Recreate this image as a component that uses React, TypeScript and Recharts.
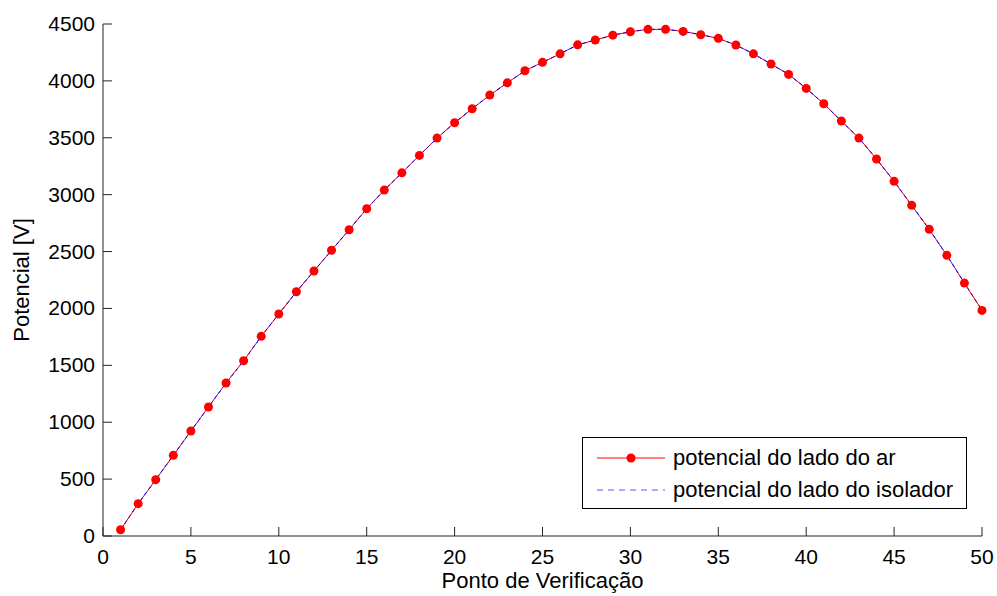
import { Line, LineChart, XAxis, YAxis } from 'recharts';

const points = [
    1, 2, 3, 4, 5, 6, 7, 8, 9, 10, 11, 12, 13, 14, 15, 16, 17, 18, 19, 20, 21, 22, 23, 24, 25,
    26, 27, 28, 29, 30, 31, 32, 33, 34, 35, 36, 37, 38, 39, 40, 41, 42, 43, 44, 45, 46, 47, 48, 49, 50,
];
const airSide = [
    55, 284, 495, 709, 923, 1134, 1345, 1540, 1755, 1951, 2147, 2329, 2511, 2692, 2876, 3040, 3192, 3345,
    3497, 3632, 3755, 3875, 3983, 4089, 4163, 4238, 4317, 4359, 4402, 4432, 4453, 4453, 4435, 4406, 4374,
    4315, 4238, 4148, 4057, 3934, 3799, 3647, 3497, 3313, 3117, 2906, 2695, 2467, 2223, 1983,
];
const insulatorSide = [
    55, 284, 495, 709, 923, 1134, 1345, 1540, 1755, 1951, 2147, 2329, 2511, 2692, 2876, 3040, 3192, 3345,
    3497, 3632, 3755, 3875, 3983, 4089, 4163, 4238, 4317, 4359, 4402, 4432, 4453, 4453, 4435, 4406, 4374,
    4315, 4238, 4148, 4057, 3934, 3799, 3647, 3497, 3313, 3117, 2906, 2695, 2467, 2223, 1983,
];
const xTicks = [0, 5, 10, 15, 20, 25, 30, 35, 40, 45, 50];
const yTicks = [0, 500, 1000, 1500, 2000, 2500, 3000, 3500, 4000, 4500];
const seriesNames = ['potencial do lado do ar', 'potencial do lado do isolador'];

const data = points.map((p, i) => ({ p, ar: airSide[i], isolador: insulatorSide[i] }));

const FONT = 'Arial, "Liberation Sans", sans-serif';
const AXIS = '#222';

function XTick({ x, y, payload }: any) {
    return (
        <g>
            <line x1={x} x2={x} y1={y} y2={y - 9} stroke={AXIS} />
            <text x={x} y={y + 28} textAnchor="middle" fontSize={21} fontFamily={FONT} fill="#000">
                {payload.value}
            </text>
        </g>
    );
}

function YTick({ x, y, payload }: any) {
    return (
        <g>
            <line x1={x} x2={x + 9} y1={y} y2={y} stroke={AXIS} />
            <text x={x - 8} y={y + 7} textAnchor="end" fontSize={21} fontFamily={FONT} fill="#000">
                {payload.value}
            </text>
        </g>
    );
}

export default function App() {
    return (
        <div style={{ position: 'absolute', left: 0, top: 0, width: 997, height: 596, background: '#fff', fontFamily: FONT }}>
            <LineChart width={997} height={596} data={data} margin={{ top: 24, right: 15, bottom: 59, left: 102 }}>
                <XAxis
                    dataKey="p"
                    type="number"
                    domain={[0, 50]}
                    ticks={xTicks}
                    height={1}
                    tickSize={0}
                    tickMargin={0}
                    tick={<XTick />}
                    tickLine={false}
                    stroke={AXIS}
                    interval={0}
                />
                <YAxis
                    type="number"
                    domain={[0, 4500]}
                    ticks={yTicks}
                    width={1}
                    tickSize={0}
                    tickMargin={0}
                    tick={<YTick />}
                    tickLine={false}
                    stroke={AXIS}
                    interval={0}
                />
                <Line
                    type="linear"
                    dataKey="ar"
                    stroke="#ff0000"
                    strokeWidth={1}
                    dot={{ r: 4.5, fill: '#ff0000', stroke: '#ff0000', strokeWidth: 0 }}
                    isAnimationActive={false}
                />
                <Line
                    type="linear"
                    dataKey="isolador"
                    stroke="#0000ff"
                    strokeWidth={1}
                    strokeDasharray="4 3"
                    dot={false}
                    isAnimationActive={false}
                />
            </LineChart>
            <div
                style={{
                    position: 'absolute',
                    left: 0,
                    top: 566,
                    width: 1085,
                    textAlign: 'center',
                    fontSize: 22,
                    lineHeight: '30px',
                }}
            >
                Ponto de Verificação
            </div>
            <div
                style={{
                    position: 'absolute',
                    left: 22,
                    top: 280,
                    transform: 'translate(-50%, -50%) rotate(-90deg)',
                    fontSize: 22,
                    whiteSpace: 'nowrap',
                }}
            >
                Potencial [V]
            </div>
            <div
                style={{
                    position: 'absolute',
                    left: 582,
                    top: 437,
                    width: 383,
                    height: 70,
                    border: '1px solid #000',
                    background: '#fff',
                    fontSize: 22,
                }}
            >
                {seriesNames.map((name, i) => (
                    <div key={name} style={{ position: 'absolute', left: 12, top: 6 + i * 32, height: 28, display: 'flex', alignItems: 'center' }}>
                        <svg width={70} height={28} style={{ marginRight: 8 }}>
                            {i === 0 ? (
                                <>
                                    <line x1={2} x2={70} y1={14} y2={14} stroke="#ff0000" />
                                    <circle cx={36} cy={14} r={4.5} fill="#ff0000" />
                                </>
                            ) : (
                                <line x1={2} x2={70} y1={14} y2={14} stroke="#5555ff" strokeDasharray="6 5" />
                            )}
                        </svg>
                        <span style={{ whiteSpace: 'nowrap' }}>{name}</span>
                    </div>
                ))}
            </div>
        </div>
    );
}
